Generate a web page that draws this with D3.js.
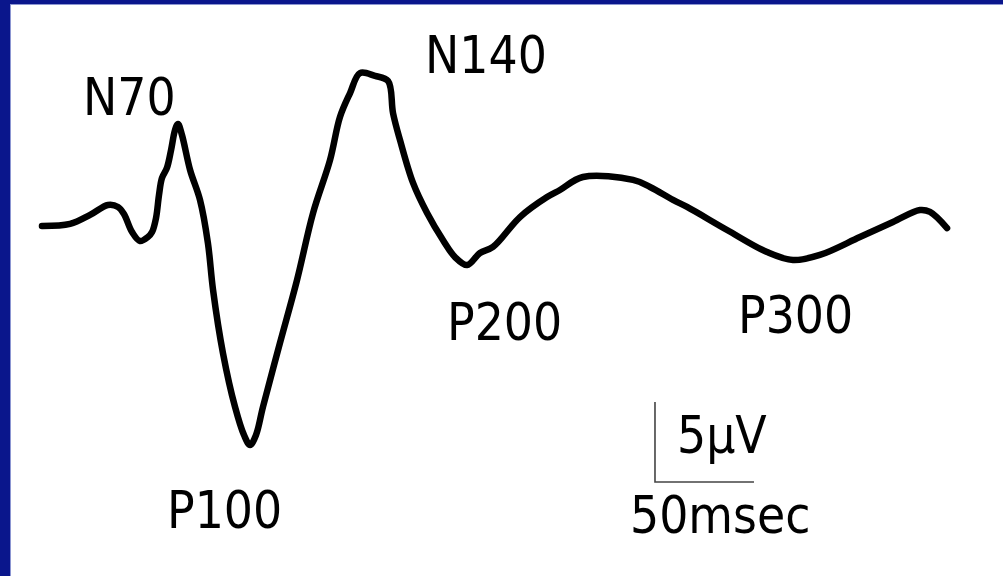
<!DOCTYPE html>
<html>
<head>
<meta charset="utf-8">
<script src="https://cdn.jsdelivr.net/npm/d3@7"></script>
<style>
  html, body { margin: 0; padding: 0; background: #fff; }
  svg { display: block; }
  text { font-family: "DejaVu Sans Condensed", "DejaVu Sans", Verdana, sans-serif; font-stretch: condensed; fill: #000; }
</style>
</head>
<body>
<script>
// Grand-average evoked potential waveform (negative plotted upward)
const timeMs = [1.0, 15.2, 25.3, 34.3, 39.4, 42.4, 46.5, 50.5, 54.5, 56.6, 58.6, 60.1, 61.6, 64.1, 66.2,
  68.2, 69.7, 71.7, 75.8, 80.8, 84.8, 87.4, 92.4, 98.5, 103.0, 106.1, 109.1, 112.6, 121.2, 129.8,
  137.9, 146.5, 151.5, 156.6, 161.6, 169.2, 175.8, 178.3, 181.8, 188.4, 195.5, 203.5, 209.6, 215.7,
  222.2, 228.8, 242.4, 256.1, 262.6, 274.2, 299.5, 308.1, 319.7, 326.8, 347.0, 367.2, 380.3, 393.9,
  414.1, 430.8, 444.4, 449.5, 458.1];
const amplitudeUv = [0.00, -0.13, -0.69, -1.31, -1.19, -0.75, 0.38, 0.94, 0.69, 0.38, -0.50, -1.94, -3.00, -3.63, -4.75,
  -6.00, -6.38, -5.69, -3.50, -1.63, 1.06, 4.00, 7.94, 11.31, 13.06, 13.69, 13.06, 11.31, 7.31, 3.38,
  -0.81, -4.13, -6.81, -8.31, -9.56, -9.38, -9.06, -7.06, -5.38, -2.69, -0.81, 0.88, 1.94, 2.44,
  1.69, 1.31, -0.56, -1.81, -2.25, -3.06, -2.88, -2.44, -1.63, -1.19, 0.25, 1.63, 2.13, 1.81,
  0.69, -0.25, -1.00, -0.88, 0.13];

// Component labels
const componentNames = ["N70", "P100", "N140", "P200", "P300"];
const componentLabelPos = [[83, 115], [167, 528], [425, 73], [447, 340], [738, 333]];

// Calibration bar
const barTimeMs = 50;
const barAmpUv = 5;
const barLabels = ["5\u00B5V", "50msec"];

const W = 1003, H = 576;
const svg = d3.select("body").append("svg").attr("width", W).attr("height", H);

// Slide frame: navy band on top and left
svg.append("rect").attr("x", 0).attr("y", 0).attr("width", W).attr("height", H).attr("fill", "#0a168c");
svg.append("rect").attr("x", 10).attr("y", 4).attr("width", W - 10).attr("height", H - 4).attr("fill", "#ffffff");
svg.append("line").attr("x1", 10.5).attr("y1", 4).attr("x2", 10.5).attr("y2", H).attr("stroke", "#8c96d2").attr("stroke-width", 1);
svg.append("line").attr("x1", 10).attr("y1", 4.5).attr("x2", W).attr("y2", 4.5).attr("stroke", "#8c96d2").attr("stroke-width", 1);

const x = d3.scaleLinear().domain([0, 460]).range([40, 40 + 460 * 1.98]);
const y = d3.scaleLinear().domain([-10, 16]).range([226 - 160, 226 + 256]);

const pts = timeMs.map((t, i) => [t, amplitudeUv[i]]);
const line = d3.line()
  .x(d => x(d[0]))
  .y(d => y(d[1]))
  .curve(d3.curveCatmullRom.alpha(0.5));

svg.append("path")
  .datum(pts)
  .attr("d", line)
  .attr("fill", "none")
  .attr("stroke", "#000")
  .attr("stroke-width", 6.5)
  .attr("stroke-linejoin", "round")
  .attr("stroke-linecap", "round");

// Calibration bar anchored at (310.6 ms, 16 µV)
const bar0T = 310.6, bar0V = 16;
svg.append("path")
  .attr("d", `M${x(bar0T)},${y(bar0V - barAmpUv)} L${x(bar0T)},${y(bar0V)} L${x(bar0T + barTimeMs)},${y(bar0V)}`)
  .attr("fill", "none")
  .attr("stroke", "#444")
  .attr("stroke-width", 1.6);

const fs = 51;
componentNames.forEach((n, i) => {
  svg.append("text").attr("x", componentLabelPos[i][0]).attr("y", componentLabelPos[i][1])
    .attr("font-size", fs).text(n);
});
svg.append("text").attr("x", 677).attr("y", 453).attr("font-size", fs).text(barLabels[0]);
svg.append("text").attr("x", 630).attr("y", 533).attr("font-size", fs).text(barLabels[1]);
</script>
</body>
</html>
